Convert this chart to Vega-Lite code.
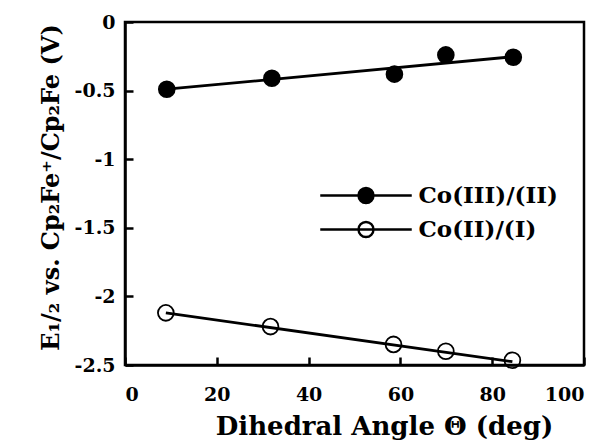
{
  "$schema": "https://vega.github.io/schema/vega-lite/v6.json",
  "width": 459,
  "height": 343,
  "autosize": {"type": "none"},
  "padding": {"left": 125, "top": 22, "right": 24, "bottom": 78},
  "background": "white",
  "config": {
    "view": {"stroke": "black", "strokeWidth": 2.5},
    "font": "DejaVu Serif",
    "axis": {
      "grid": false,
      "domainColor": "black",
      "domainWidth": 2.5,
      "tickColor": "black",
      "tickWidth": 2.5,
      "tickSize": -8,
      "labelFont": "DejaVu Serif",
      "labelFontWeight": "bold",
      "labelFontSize": 19,
      "labelColor": "black",
      "titleFont": "DejaVu Serif",
      "titleFontWeight": "bold",
      "titleFontSize": 23,
      "titleColor": "black"
    }
  },
  "datasets": {
    "pts": [
      {"series": "Co(III)/(II)", "angle": 9.1, "E": -0.49},
      {"series": "Co(III)/(II)", "angle": 32.0, "E": -0.41},
      {"series": "Co(III)/(II)", "angle": 58.7, "E": -0.38},
      {"series": "Co(III)/(II)", "angle": 69.9, "E": -0.24},
      {"series": "Co(III)/(II)", "angle": 84.6, "E": -0.257},
      {"series": "Co(II)/(I)", "angle": 8.9, "E": -2.12},
      {"series": "Co(II)/(I)", "angle": 31.7, "E": -2.22},
      {"series": "Co(II)/(I)", "angle": 58.5, "E": -2.35},
      {"series": "Co(II)/(I)", "angle": 69.9, "E": -2.40},
      {"series": "Co(II)/(I)", "angle": 84.4, "E": -2.465}
    ],
    "fit": [
      {"series": "Co(III)/(II)", "angle": 9.1, "E": -0.49},
      {"series": "Co(III)/(II)", "angle": 84.6, "E": -0.253},
      {"series": "Co(II)/(I)", "angle": 8.9, "E": -2.12},
      {"series": "Co(II)/(I)", "angle": 84.4, "E": -2.476}
    ]
  },
  "layer": [
    {
      "data": {"name": "fit"},
      "mark": {"type": "line", "color": "black", "strokeWidth": 2.8},
      "encoding": {
        "x": {"field": "angle", "type": "quantitative"},
        "y": {"field": "E", "type": "quantitative"},
        "detail": {"field": "series"}
      }
    },
    {
      "data": {"name": "pts"},
      "mark": {"type": "point", "shape": "circle", "size": 250, "stroke": "black", "strokeWidth": 1.8, "opacity": 1, "filled": false},
      "encoding": {
        "x": {
          "field": "angle", "type": "quantitative",
          "scale": {"domain": [0, 100], "nice": false},
          "axis": {"values": [0, 20, 40, 60, 80, 100], "title": "Dihedral Angle Θ (deg)", "labelPadding": 28, "titlePadding": 9, "titleX": 259, "titleFontSize": 26}
        },
        "y": {
          "field": "E", "type": "quantitative",
          "scale": {"domain": [-2.5, 0], "nice": false, "zero": false},
          "axis": {
            "values": [0, -0.5, -1, -1.5, -2, -2.5],
            "labelExpr": "datum.value == 0 ? '0' : '-' + format(-datum.value, '~g')",
            "title": "E₁/₂ vs. Cp₂Fe⁺/Cp₂Fe (V)",
            "titleFontSize": 24,
            "titleY": 165,
            "labelPadding": 18,
            "titlePadding": 11
          }
        },
        "fill": {
          "field": "series", "type": "nominal",
          "scale": {"domain": ["Co(III)/(II)", "Co(II)/(I)"], "range": ["black", "rgba(255,255,255,0)"]},
          "legend": {
            "title": null,
            "orient": "none",
            "legendX": 229.5,
            "legendY": 162,
            "symbolType": "M-6.1,0H6.1M-1,0A1,1 0 1,0 1,0A1,1 0 1,0 -1,0",
            "symbolSize": 225,
            "symbolStrokeColor": "black",
            "symbolStrokeWidth": 2.4,
            "labelOffset": 41,
            "labelFont": "DejaVu Serif",
            "labelFontWeight": "bold",
            "labelFontSize": 23,
            "labelColor": "black",
            "rowPadding": 9,
            "padding": 0
          }
        }
      }
    }
  ]
}
